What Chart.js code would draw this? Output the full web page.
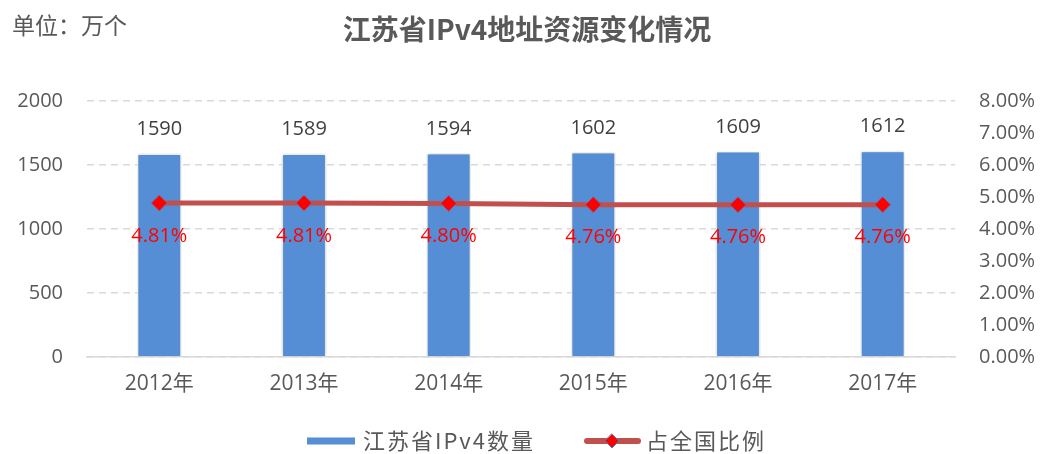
<!DOCTYPE html>
<html><head><meta charset="utf-8">
<script src="https://cdn.jsdelivr.net/npm/chart.js@4.4.1/dist/chart.umd.min.js"></script>
<style>html,body{margin:0;padding:0;background:#fff;}#wrap{width:1041px;height:454px;position:relative;}</style>
</head><body><div id="wrap"><canvas id="c" width="1041" height="454"></canvas></div>
<script>
const categories = ['2012年','2013年','2014年','2015年','2016年','2017年'];
const ipv4Counts = [1590, 1589, 1594, 1602, 1609, 1612];
const sharePct = [4.81, 4.81, 4.80, 4.76, 4.76, 4.76];
const leftTicks = [0, 500, 1000, 1500, 2000];
const rightTicks = [0,1,2,3,4,5,6,7,8];
const seriesNames = ['江苏省IPv4数量', '占全国比例'];
const chartTitle = '江苏省IPv4地址资源变化情况';
const unitLabel = '单位：万个';

const FONT = '"Open Sans", "Noto Sans CJK SC", sans-serif';
const CJK = '"Noto Sans CJK SC", sans-serif';
const TXT = '#595959';

const decor = {
  id: 'decor',
  beforeDatasetDraw(chart, args) {
    if (args.index === 1) {
      const ctx = chart.ctx; ctx.save();
      ctx.shadowColor = 'rgba(0,0,0,0.28)'; ctx.shadowBlur = 3; ctx.shadowOffsetX = 0; ctx.shadowOffsetY = 0;
    }
  },
  afterDatasetDraw(chart, args) {
    if (args.index === 1) chart.ctx.restore();
  },
  afterDatasetsDraw(chart) {
    const ctx = chart.ctx;
    ctx.save();
    ctx.font = '20px ' + FONT; ctx.textAlign = 'center'; ctx.textBaseline = 'middle';
    const mBar = chart.getDatasetMeta(1);
    ctx.fillStyle = '#404040';
    mBar.data.forEach((el, i) => { ctx.fillText(String(ipv4Counts[i]), el.x, el.y - 24); });
    const mLine = chart.getDatasetMeta(0);
    ctx.fillStyle = '#FF0000';
    mLine.data.forEach((el, i) => { ctx.fillText(sharePct[i].toFixed(2) + '%', el.x, el.y + 33); });
    ctx.restore();
  },
  afterDraw(chart) {
    const ctx = chart.ctx;
    ctx.save();
    ctx.fillStyle = TXT; ctx.textBaseline = 'middle';
    ctx.font = 'bold 28px ' + CJK; ctx.textAlign = 'center';
    ctx.fillText(chartTitle, 527, 29);
    ctx.font = '23px ' + CJK; ctx.textAlign = 'left';
    ctx.fillText(unitLabel, 12, 25);
    // legend
    const ly = 441;
    ctx.fillStyle = '#558ED5';
    ctx.fillRect(307, ly - 3.5, 48, 7);
    ctx.fillStyle = TXT; ctx.font = '22px ' + CJK;
    try { ctx.letterSpacing = '2px'; } catch (e) {}
    ctx.fillText(seriesNames[0], 363, ly);
    ctx.strokeStyle = '#C0504D'; ctx.lineWidth = 6; ctx.lineCap = 'round';
    ctx.beginPath(); ctx.moveTo(587, ly); ctx.lineTo(638, ly); ctx.stroke();
    ctx.beginPath(); ctx.moveTo(612, ly - 7); ctx.lineTo(619, ly); ctx.lineTo(612, ly + 7); ctx.lineTo(605, ly); ctx.closePath();
    ctx.fillStyle = '#FF0000'; ctx.fill(); ctx.strokeStyle = '#4F81BD'; ctx.lineWidth = 1; ctx.stroke();
    ctx.fillStyle = TXT; ctx.fillText(seriesNames[1], 646, ly);
    ctx.restore();
  }
};

new Chart(document.getElementById('c'), {
  data: {
    labels: categories,
    datasets: [
      { type: 'line', label: seriesNames[1], data: sharePct, yAxisID: 'y1', order: 0,
        borderColor: '#C0504D', borderWidth: 5, pointStyle: 'rectRot', pointRadius: 8,
        pointBackgroundColor: '#FF0000', pointBorderColor: '#7F6A9E', pointBorderWidth: 1, tension: 0 },
      { type: 'bar', label: seriesNames[0], data: ipv4Counts, yAxisID: 'y', order: 1,
        backgroundColor: '#558ED5', borderColor: '#FFFFFF', borderWidth: 1.5,
        barPercentage: 0.31, categoryPercentage: 1 }
    ]
  },
  options: {
    responsive: false, animation: false, devicePixelRatio: 1,
    layout: { padding: { top: 101, bottom: 0, left: 0, right: 0 } },
    plugins: { legend: { display: false }, title: { display: false }, tooltip: { enabled: false } },
    scales: {
      x: {
        grid: { display: false, drawTicks: false },
        border: { display: true, color: '#D9D9D9', width: 1.5 },
        ticks: { color: TXT, font: { family: FONT, size: 21 }, padding: 14 },
        afterFit(s) { s.height = 97; }
      },
      y: {
        position: 'left', min: 0, max: 2000,
        afterBuildTicks(s) { s.ticks = leftTicks.map(v => ({ value: v })); },
        grid: { color: '#D9D9D9', lineWidth: 1.5, drawTicks: false },
        border: { display: false, dash: [7, 5] },
        ticks: { color: TXT, font: { family: FONT, size: 20 }, padding: 24, callback: v => String(v) },
        afterFit(s) { s.width = 87; }
      },
      y1: {
        position: 'right', min: 0, max: 8,
        afterBuildTicks(s) { s.ticks = rightTicks.map(v => ({ value: v })); },
        grid: { display: false, drawTicks: false },
        border: { display: false },
        ticks: { color: TXT, font: { family: FONT, size: 20 }, padding: 24, callback: v => v.toFixed(2) + '%' },
        afterFit(s) { s.width = 86; }
      }
    }
  },
  plugins: [decor]
});
</script></body></html>
